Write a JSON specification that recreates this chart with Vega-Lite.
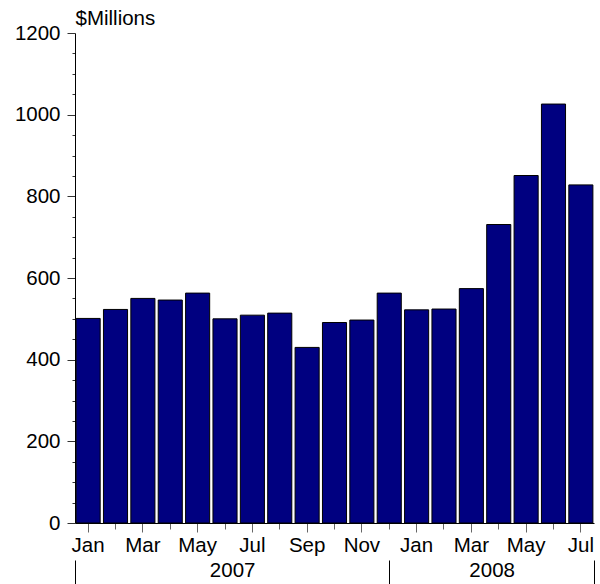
{
  "$schema": "https://vega.github.io/schema/vega-lite/v6.json",
  "width": 519,
  "height": 490,
  "autosize": {"type": "none"},
  "padding": {"left": 75, "top": 33, "right": 6, "bottom": 61},
  "background": "white",
  "config": {
    "view": {"stroke": null},
    "font": "Liberation Sans",
    "axis": {"labelFont": "Liberation Sans", "titleFont": "Liberation Sans", "labelColor": "black", "titleColor": "black", "grid": false}
  },
  "data": {
    "values": [
      {"date": "2007-01-01", "value": 501},
      {"date": "2007-02-01", "value": 523},
      {"date": "2007-03-01", "value": 550},
      {"date": "2007-04-01", "value": 546},
      {"date": "2007-05-01", "value": 563},
      {"date": "2007-06-01", "value": 500},
      {"date": "2007-07-01", "value": 509},
      {"date": "2007-08-01", "value": 514},
      {"date": "2007-09-01", "value": 430},
      {"date": "2007-10-01", "value": 491},
      {"date": "2007-11-01", "value": 497},
      {"date": "2007-12-01", "value": 563},
      {"date": "2008-01-01", "value": 522},
      {"date": "2008-02-01", "value": 524},
      {"date": "2008-03-01", "value": 574},
      {"date": "2008-04-01", "value": 731},
      {"date": "2008-05-01", "value": 851},
      {"date": "2008-06-01", "value": 1026},
      {"date": "2008-07-01", "value": 828}
    ]
  },
  "layer": [
    {
      "mark": {"type": "bar", "fill": "#000080", "stroke": "black", "strokeWidth": 1},
      "encoding": {
        "x": {
          "field": "date",
          "type": "ordinal",
          "timeUnit": "utcyearmonth",
          "scale": {"paddingInner": 0.12, "paddingOuter": 0.04},
          "axis": {
            "orient": "bottom",
            "title": null,
            "labelExpr": "utcmonth(datum.value) % 2 == 0 ? utcFormat(datum.value, '%b') : ''",
            "labelAngle": 0,
            "labelFontSize": 20.5,
            "labelPadding": 3,
            "tickSize": {"condition": {"test": "utcmonth(datum.value) % 2 == 0", "value": 9}, "value": 6},
            "tickColor": "#666666",
            "domainColor": "black",
            "labelOverlap": false
          }
        },
        "y": {
          "field": "value",
          "type": "quantitative",
          "scale": {"domain": [0, 1200], "nice": false},
          "axis": {
            "title": "$Millions",
            "titleAngle": 0,
            "titleAlign": "left",
            "titleBaseline": "alphabetic",
            "titleX": 0,
            "titleY": -9,
            "titleFontSize": 20.5,
            "titleFontWeight": "normal",
            "values": [0, 50, 100, 150, 200, 250, 300, 350, 400, 450, 500, 550, 600, 650, 700, 750, 800, 850, 900, 950, 1000, 1050, 1100, 1150, 1200],
            "format": "d",
            "labelExpr": "datum.value % 200 == 0 ? datum.label : ''",
            "labelFontSize": 20.5,
            "labelPadding": 7,
            "tickSize": {"condition": {"test": "datum.value % 200 == 0", "value": 8}, "value": 3},
            "tickColor": "#333333",
            "domainColor": "black",
            "labelOverlap": false
          }
        }
      }
    },
    {
      "mark": {"type": "rule", "strokeOpacity": 0},
      "encoding": {
        "x": {
          "datum": 0,
          "type": "quantitative",
          "scale": {"domain": [-0.48, 18.48], "nice": false, "zero": false},
          "axis": {
            "orient": "bottom",
            "title": null,
            "values": [5.26, 14.74],
            "labelExpr": "datum.value < 10 ? '2007' : '2008'",
            "labelFontSize": 20.5,
            "ticks": false,
            "domain": false,
            "labelPadding": 37,
            "labelOverlap": false,
            "grid": false
          }
        }
      }
    },
    {
      "mark": {"type": "rule", "strokeOpacity": 0},
      "encoding": {
        "x": {
          "datum": 0,
          "type": "quantitative",
          "scale": {"domain": [-0.48, 18.48], "nice": false, "zero": false},
          "axis": {
            "orient": "bottom",
            "title": null,
            "values": [-0.48, 11, 18.48],
            "labels": false,
            "domain": false,
            "tickSize": 24,
            "tickColor": "black",
            "offset": 37,
            "grid": false
          }
        }
      }
    }
  ],
  "resolve": {"scale": {"x": "independent"}, "axis": {"x": "independent"}}
}
